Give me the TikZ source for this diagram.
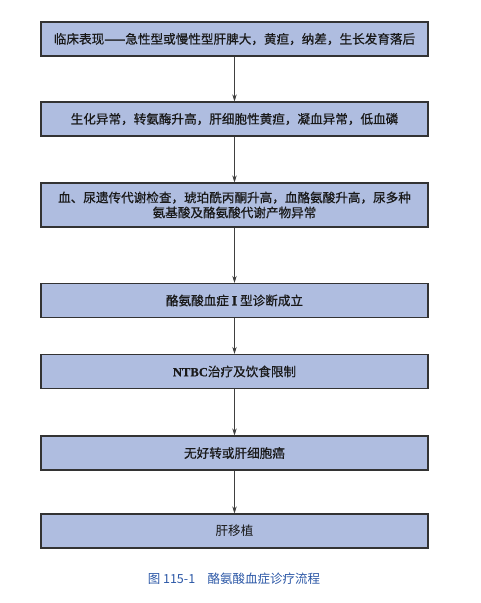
\documentclass[tikz,border=0pt]{standalone}
\usepackage{fontspec}
\setmainfont{Liberation Serif}
\newfontfamily\cjk{Noto Sans CJK SC}
\newfontfamily\cjkb[FakeBold=0.6]{Noto Sans CJK SC}
\newfontfamily\latb{Liberation Serif}[FakeBold=0.6]
\usetikzlibrary{arrows.meta}
\definecolor{boxfill}{HTML}{AFBDE0}
\definecolor{boxline}{HTML}{333333}
\definecolor{capblue}{HTML}{2B57A6}
\tikzset{
  flowbox/.style={draw=boxline, fill=boxfill, line width=1.3pt, minimum width=387pt, inner sep=0pt, align=center, font=\cjkb\fontsize{12.6}{15}\selectfont, text=black!90},
  flowarrow/.style={draw=black!75, line width=0.7pt, -{Stealth[length=7pt,width=4.5pt]}}
}
\begin{document}
\begin{tikzpicture}[x=1pt,y=1pt]
\useasboundingbox (0,0) rectangle (480,-603);
\node[flowbox, minimum height=34pt] (b1) at (234.5,-39) {临床表现——急性型或慢性型肝脾大，黄疸，纳差，生长发育落后};
\node[flowbox, minimum height=34pt] (b2) at (234.5,-119) {生化异常，转氨酶升高，肝细胞性黄疸，凝血异常，低血磷};
\node[flowbox, minimum height=44pt] (b3) at (234.5,-205) {血、尿遗传代谢检查，琥珀酰丙酮升高，血酪氨酸升高，尿多种\\氨基酸及酪氨酸代谢产物异常};
\node[flowbox, minimum height=34pt] (b4) at (234.5,-300.5) {酪氨酸血症 {\latb\bfseries\fontsize{14}{15}\selectfont I} 型诊断成立};
\node[flowbox, minimum height=34pt] (b5) at (234.5,-371.5) {{\latb\bfseries NTBC}治疗及饮食限制};
\node[flowbox, minimum height=34pt] (b6) at (234.5,-453) {无好转或肝细胞癌};
\node[flowbox, minimum height=34pt, font=\cjk\fontsize{12.6}{15}\selectfont] (b7) at (234.5,-531) {肝移植};
\draw[flowarrow] (b1) -- (b2);
\draw[flowarrow] (b2) -- (b3);
\draw[flowarrow] (b3) -- (b4);
\draw[flowarrow] (b4) -- (b5);
\draw[flowarrow] (b5) -- (b6);
\draw[flowarrow] (b6) -- (b7);
\node[font=\cjk\fontsize{12.5}{15}\selectfont, text=capblue] (cap) at (234,-579) {图 115-1\quad 酪氨酸血症诊疗流程};
\end{tikzpicture}
\end{document}
